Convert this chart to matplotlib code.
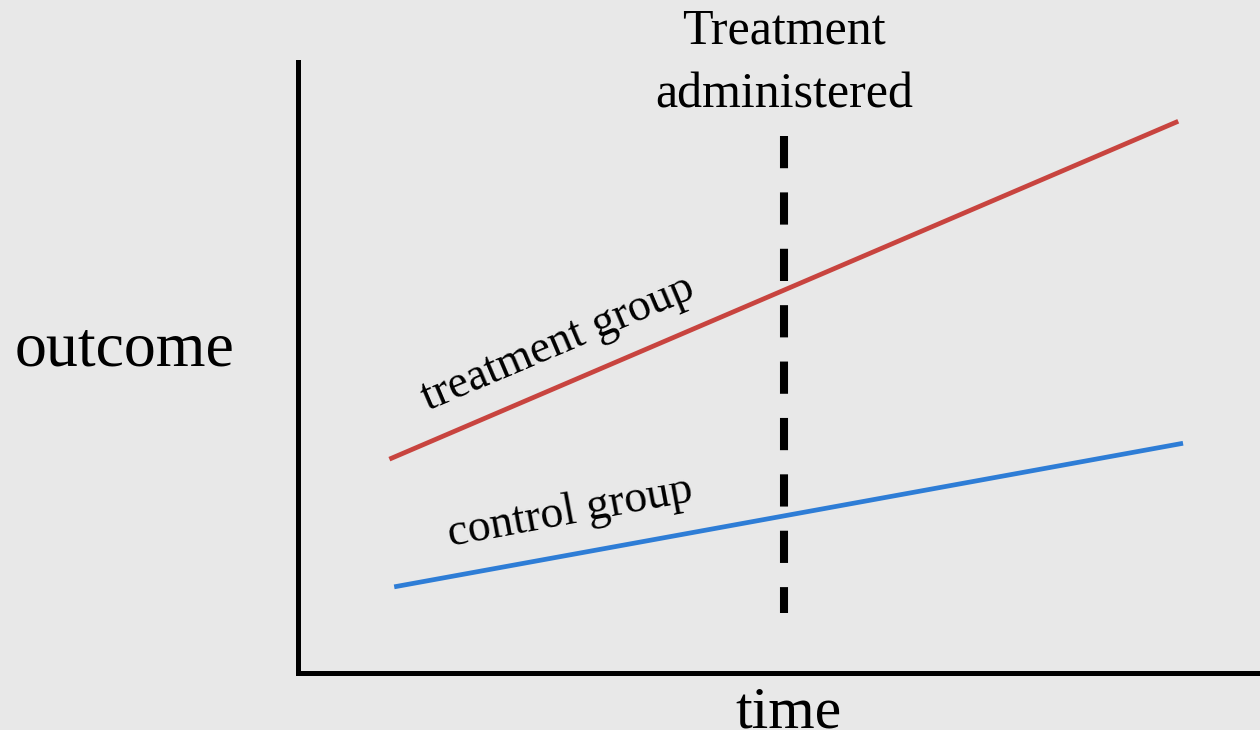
import matplotlib
matplotlib.use('Agg')
from matplotlib import pyplot as plt

# schematic difference-in-differences picture
treat_x = [0.95, 9.15]
treat_y = [3.50, 9.03]
control_x = [1.0, 9.2]
control_y = [1.41, 3.76]
event_x = 5.05
event_y = [0.98, 8.79]

bg = '#e8e8e8'
red = '#c8443f'
blue = '#2e7dd6'

plt.rcParams['font.family'] = ['Liberation Serif', 'DejaVu Serif']

fig = plt.figure(figsize=(12.6, 7.3), dpi=100, facecolor=bg)
ax = fig.add_axes([298 / 1260, 57 / 730, 962 / 1260, 611 / 730])
ax.set_facecolor(bg)
ax.set_xlim(0, 10)
ax.set_ylim(0, 10)

ax.plot(treat_x, treat_y, color=red, lw=3.4, solid_capstyle='butt')
ax.plot(control_x, control_y, color=blue, lw=3.4, solid_capstyle='butt')
ax.plot([event_x, event_x], event_y[::-1], color='black', lw=5.8,
        dashes=(4.0, 3.0), dash_capstyle='butt', zorder=3)

ax.text(2.75, 5.22, 'treatment group', fontsize=33, rotation=23,
        rotation_mode='anchor', ha='center', va='baseline')
ax.text(2.85, 2.44, 'control group', fontsize=33, rotation=10.5,
        rotation_mode='anchor', ha='center', va='baseline')
ax.text(event_x, 9.07, 'Treatment\nadministered', fontsize=36,
        ha='center', va='bottom', linespacing=1.5, clip_on=False)

for side in ['top', 'right']:
    ax.spines[side].set_visible(False)
for side in ['left', 'bottom']:
    ax.spines[side].set_linewidth(3.6)
    ax.spines[side].set_color('black')
ax.set_xticks([])
ax.set_yticks([])

fig.text(125 / 1260, (730 - 365) / 730, 'outcome', fontsize=46,
         ha='center', va='baseline')
fig.text(788 / 1260, (730 - 727) / 730, 'time', fontsize=43,
         ha='center', va='baseline')

fig.savefig('out.png', dpi=100, facecolor=bg)
